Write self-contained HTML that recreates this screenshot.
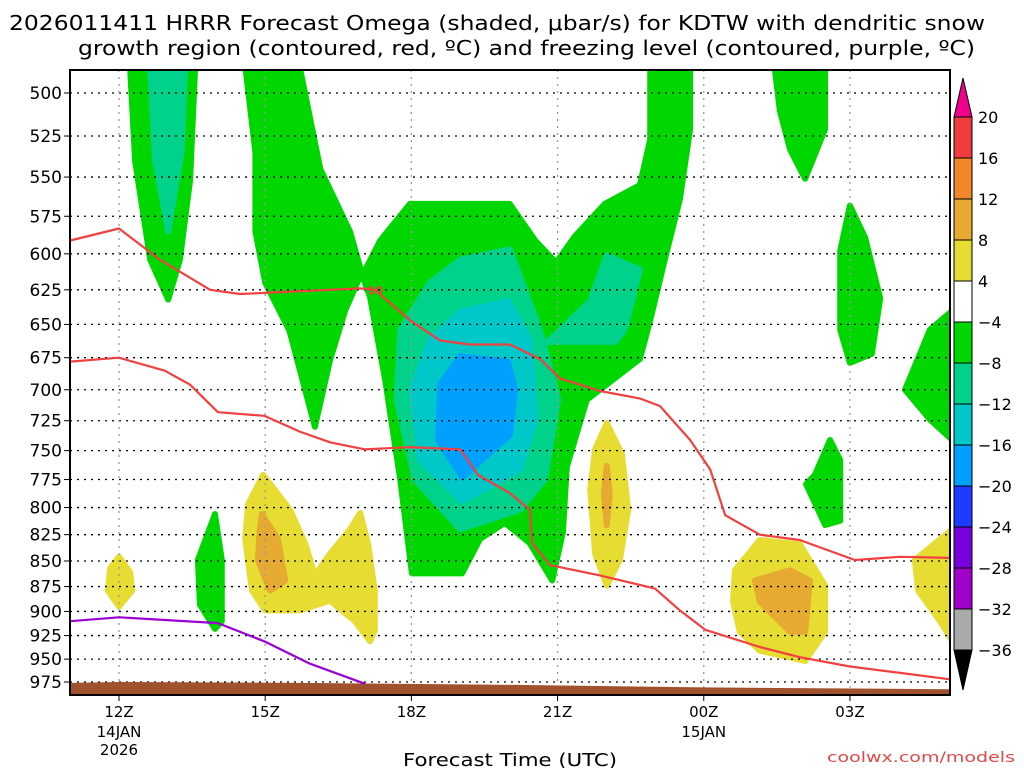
<!DOCTYPE html>
<html><head><meta charset="utf-8">
<style>
html,body{margin:0;padding:0;background:#fff;}
svg{display:block;font-family:"DejaVu Sans","Liberation Sans",sans-serif;}
</style></head>
<body>
<svg id="chart" width="1024" height="768" viewBox="0 0 1024 768" xmlns="http://www.w3.org/2000/svg">
<text x="9" y="30" font-size="20" textLength="976" lengthAdjust="spacingAndGlyphs">2026011411 HRRR Forecast Omega (shaded, μbar/s) for KDTW with dendritic snow</text>
<text x="78" y="55" font-size="20" textLength="897" lengthAdjust="spacingAndGlyphs">growth region (contoured, red, ºC) and freezing level (contoured, purple, ºC)</text>
<g id="plot"></g>
<g id="cbar"></g>
<text x="403" y="766" font-size="18" textLength="214" lengthAdjust="spacingAndGlyphs">Forecast Time (UTC)</text>
<text x="827" y="762" font-size="14" fill="#e04848" textLength="188" lengthAdjust="spacingAndGlyphs">coolwx.com/models</text>
</svg>
<script>
const NS="http://www.w3.org/2000/svg";
// axes config data
const pressureTicks=[500,525,550,575,600,625,650,675,700,725,750,775,800,825,850,875,900,925,950,975];
const timeTicks=[0,3,6,9,12,15];
const timeLabels=["12Z","15Z","18Z","21Z","00Z","03Z"];
const dateLabels1=["14JAN","","","","15JAN",""];
const dateLabels2=["2026","","","","",""];
const cbarLevels=[20,16,12,8,4,-4,-8,-12,-16,-20,-24,-28,-32,-36];
const cbarColors=["#f03c3c","#f0882a","#e6aa32","#e6dc32","#ffffff","#00d700","#00d28c","#00c8c8","#00a0ff","#1e3cff","#7800dc","#a000c8","#aaaaaa"];
// shaded omega regions: [hour, hPa] pairs
const greenLeftCol=[[0.23,487],[1.56,487],[1.46,552],[1.25,604],[1.01,632],[0.64,604],[0.33,540]];
const tealLeftCol=[[0.64,487],[1.35,487],[1.29,533],[1.01,585],[0.74,540]];
const greenLeftBig=[[2.6,487],[2.8,535],[2.8,585],[3.0,620],[3.5,655],[3.82,700],[4.02,730],[4.33,677],[4.64,640],[4.98,613],[4.74,585],[4.13,545],[3.72,487]];
const greenCentral=[[4.99,615],[5.36,591],[5.97,567],[8.02,567],[8.54,591],[8.97,606],[9.36,588],[9.97,567],[10.69,555],[10.9,527],[10.9,487],[11.72,487],[11.72,521],[11.51,564],[11.2,604],[10.9,647],[10.69,676],[9.6,708],[9.19,764],[9.11,823],[8.89,869],[8.43,833],[7.92,814],[7.41,829],[7.04,862],[6.01,862],[5.77,775],[5.46,692],[5.15,630]];
const tealCentral=[[7.0,604],[8.02,597],[8.64,654],[9.01,708],[8.74,775],[8.23,802],[7.0,820],[6.07,775],[5.7,708],[5.77,654],[6.38,620]];
const tealBump=[[8.74,665],[9.67,633],[10.01,601],[10.69,611],[10.38,654],[10.18,663],[8.74,663]];
const cyanCentral=[[7.0,641],[7.98,633],[8.43,662],[8.54,724],[8.23,766],[7.04,794],[6.18,758],[6.01,700],[6.38,662]];
const blueCentral=[[7.0,674],[7.98,678],[8.13,700],[8.02,737],[7.04,773],[6.55,741],[6.59,696]];
const yellow15z=[[2.96,771],[3.51,802],[3.82,833],[4.02,864],[4.33,843],[4.74,820],[4.95,805],[5.11,833],[5.25,879],[5.25,920],[5.15,931],[4.84,910],[4.33,889],[3.71,899],[3.0,899],[2.73,879],[2.59,829],[2.65,797]];
const orange15z=[[2.93,806],[3.26,829],[3.41,869],[3.1,879],[2.85,849],[2.89,820]];
const yellow12z=[[0,846],[0.23,861],[0.27,879],[0,895],[-0.23,879],[-0.18,857]];
const green14z=[[1.97,806],[2.11,849],[2.11,910],[1.97,918],[1.66,893],[1.62,849]];
const yellow22z=[[10.01,727],[10.32,753],[10.45,802],[10.28,849],[10.01,874],[9.77,843],[9.67,784],[9.77,749]];
const orange22z=[[10.01,763],[10.07,788],[10.01,816],[9.95,788]];
const greenTopRight=[[13.46,487],[14.49,487],[14.49,521],[14.08,551],[13.77,533],[13.56,510]];
const green03z=[[15.0,568],[15.31,589],[15.62,631],[15.45,672],[15.0,679],[14.8,654],[14.8,598]];
const greenSmall=[[14.59,741],[14.8,758],[14.8,812],[14.49,816],[14.1,779],[14.28,771]];
const greenRight=[[16.13,700],[16.64,654],[17.1,640],[17.1,741],[16.64,724]];
const yellowBR=[[12.64,859],[13.15,830],[13.97,834],[14.49,874],[14.49,921],[14.08,952],[13.15,941],[12.74,921],[12.6,890]];
const orangeBR=[[13.05,869],[13.77,859],[14.18,869],[14.08,921],[13.77,921],[13.15,890]];
const yellowFarRight=[[16.33,849],[17.1,820],[17.1,931],[16.85,910],[16.4,879]];
// contour lines
const redUpper=[[-1,591],[0,583],[0.84,604],[1.87,625],[2.48,628],[3.71,626],[4.95,624],[5.25,625],[5.97,647],[6.59,662],[7.2,665],[8.02,665],[8.64,676],[9.05,691],[9.87,701],[10.69,707],[11.1,713],[11.72,741],[12.13,766],[12.44,807],[13.15,825],[13.97,830],[15.1,849],[16.03,846],[17.05,847]];
const redLower=[[-1,678],[0,675],[0.94,685],[1.46,696],[2.03,718],[2.98,721],[3.71,734],[4.33,743],[5.05,749],[5.97,747],[7.0,749],[7.37,771],[8.02,787],[8.43,802],[8.48,833],[8.84,854],[9.87,864],[11.0,877],[11.51,899],[12.03,919],[13.15,937],[13.97,948],[15.0,958],[16.03,965],[17.05,972]];
const purpleLine=[[-1,910],[0,906],[2.03,912],[2.98,931],[3.92,955],[5.05,977]];
const groundTop=[[-1,976],[0,975],[3.7,976],[7.82,978],[12.0,981],[17.05,983]];

const X0=70,X1=950,Y0=70,Y1=695;
function xs(h){return 119+h*48.73;}
function ys(p){return 93+Math.log(p/500)/0.0011338;}
function pts(a){return a.map(d=>xs(d[0]).toFixed(1)+","+ys(d[1]).toFixed(1)).join(" ");}
function mk(t,at,par){const e=document.createElementNS(NS,t);for(const k in at)e.setAttribute(k,at[k]);par.appendChild(e);return e;}
const plot=document.getElementById("plot");
const defs=mk("defs",{},plot);
const cp=mk("clipPath",{id:"clip"},defs);
mk("rect",{x:X0,y:Y0,width:X1-X0,height:Y1-Y0},cp);
const g=mk("g",{"clip-path":"url(#clip)"},plot);
const shapes=[["green-left-column",greenLeftCol,"#00d700"],["teal-left-column",tealLeftCol,"#00d28c"],["green-left-big",greenLeftBig,"#00d700"],["green-central",greenCentral,"#00d700"],["teal-central",tealCentral,"#00d28c"],["teal-bump",tealBump,"#00d28c"],["cyan-central",cyanCentral,"#00c8c8"],["blue-central",blueCentral,"#00a0ff"],["yellow-15z",yellow15z,"#e6dc32"],["orange-15z",orange15z,"#e6aa32"],["yellow-12z",yellow12z,"#e6dc32"],["green-14z",green14z,"#00d700"],["yellow-22z",yellow22z,"#e6dc32"],["orange-22z",orange22z,"#e6aa32"],["green-top-right",greenTopRight,"#00d700"],["green-03z",green03z,"#00d700"],["green-small",greenSmall,"#00d700"],["green-right",greenRight,"#00d700"],["yellow-bottom-right",yellowBR,"#e6dc32"],["orange-bottom-right",orangeBR,"#e6aa32"],["yellow-far-right",yellowFarRight,"#e6dc32"]];
shapes.forEach(s=>{
 const e=mk("polygon",{points:pts(s[1]),fill:s[2],stroke:s[2],"stroke-width":6,"stroke-linejoin":"round"},g);
 
 
});
// grid
pressureTicks.forEach(p=>{
 const y=ys(p);
 const l=mk("line",{x1:X0,x2:X1,y1:y,y2:y,stroke:"#000","stroke-width":1.3,"stroke-dasharray":"2,5"},g);
 
 
 const t=mk("line",{x1:X0-6,x2:X0,y1:y,y2:y,stroke:"#000","stroke-width":1},plot);
 
 
 const tx=mk("text",{x:62,y:y+6,"font-size":17,"text-anchor":"end"},plot);
 tx.textContent=p;
 
 
});
timeTicks.forEach((h,i)=>{
 const x=xs(h);
 const l=mk("line",{x1:x,x2:x,y1:Y0,y2:Y1,stroke:"#999","stroke-width":1.3,"stroke-dasharray":"2,5"},g);
 
 
 const t=mk("line",{x1:x,x2:x,y1:Y1,y2:Y1+6,stroke:"#000","stroke-width":1},plot);
 
 
 [[timeLabels[i],717],[dateLabels1[i],737],[dateLabels2[i],755]].forEach(L=>{
  if(!L[0])return;
  const tx=mk("text",{x:x,y:L[1],"font-size":15,"text-anchor":"middle"},plot);
  tx.textContent=L[0];
  
  
 });
});
// ground
const gp=groundTop.concat([[17.05,1000],[-1,1000]]);
const gr=mk("polygon",{points:pts(gp),fill:"#a0522d"},g);


// lines
[["dgz-contour-upper",redUpper,"#f04040"],["dgz-contour-lower",redLower,"#f04040"],["freezing-level-line",purpleLine,"#9b00d2"]].forEach(s=>{
 const e=mk("polyline",{points:pts(s[1]),fill:"none",stroke:s[2],"stroke-width":2.2,"stroke-linejoin":"round"},g);
 
 
});
const lbl=mk("text",{x:xs(5.1),y:ys(628),"font-size":11,fill:"#f04040","font-weight":"bold"},g);
lbl.textContent="10";


const fr=mk("rect",{x:X0,y:Y0,width:X1-X0,height:Y1-Y0,fill:"none",stroke:"#000","stroke-width":2},plot);


// colorbar
const cb=document.getElementById("cbar");
const cx0=954,cx1=972,cy0=117,step=41;
function cy(i){return cy0+i*step;}
const tri=mk("polygon",{points:`${cx0},${cy(0)} ${cx1},${cy(0)} ${(cx0+cx1)/2},78`,fill:"#f0008c",stroke:"#000","stroke-width":1},cb);


cbarColors.forEach((c,i)=>{
 const r=mk("rect",{x:cx0,y:cy(i),width:cx1-cx0,height:step,fill:c,stroke:"#000","stroke-width":1},cb);
 
 
});
const tri2=mk("polygon",{points:`${cx0},${cy(13)} ${cx1},${cy(13)} ${(cx0+cx1)/2},690`,fill:"#000",stroke:"#000","stroke-width":1},cb);


cbarLevels.forEach((v,i)=>{
 const t=mk("text",{x:978,y:cy(i)+6,"font-size":16},cb);
 t.textContent=v<0?"\u2212"+(-v):String(v);
 
 
});
</script>
</body></html>
